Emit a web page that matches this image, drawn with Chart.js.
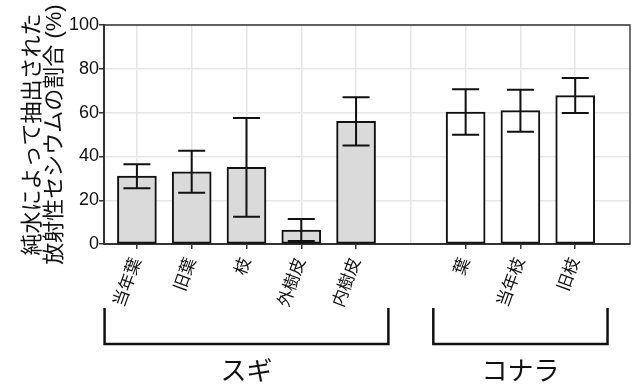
<!DOCTYPE html>
<html>
<head>
<meta charset="utf-8">
<script src="https://cdn.jsdelivr.net/npm/chart.js@4.4.1/dist/chart.umd.min.js"></script>
<style>
  body { margin: 0; background: #fff; }
</style>
</head>
<body>
<canvas id="myChart" width="640" height="390"></canvas>
<script>
// chart data
const sugiLabels = ['当年葉', '旧葉', '枝', '外樹皮', '内樹皮'];
const sugiValues = [31, 33, 35, 6.4, 56];
const sugiErrors = [5.5, 9.6, 22.5, 5, 11];

const konaraLabels = ['葉', '当年枝', '旧枝'];
const konaraValues = [60.3, 60.9, 67.8];
const konaraErrors = [10.4, 9.6, 8];

const groupNames = ['スギ', 'コナラ'];
const yTicks = [0, 20, 40, 60, 80, 100];
const yTitle = ['純水によって抽出された', '放射性セシウムの割合 (%)'];

const jpFont = "'Liberation Sans', 'Noto Sans CJK JP', sans-serif";

// slot positions: one empty slot between the two groups
const sugiPos = sugiLabels.map((_, i) => i + 1);
const konaraPos = konaraLabels.map((_, i) => sugiLabels.length + 2 + i);

const allPos = sugiPos.concat(konaraPos);
const allLabels = sugiLabels.concat(konaraLabels);
const allValues = sugiValues.concat(konaraValues);
const allErrors = sugiErrors.concat(konaraErrors);
const allColors = sugiLabels.map(() => '#dadada').concat(konaraLabels.map(() => '#ffffff'));

const labelAt = {};
allPos.forEach((p, i) => { labelAt[p] = allLabels[i]; });

const groups = [
  { name: groupNames[0], from: sugiPos[0], to: sugiPos[sugiPos.length - 1] },
  { name: groupNames[1], from: konaraPos[0], to: konaraPos[konaraPos.length - 1] },
];

const errorBars = {
  id: 'errorBars',
  afterDatasetsDraw(chart) {
    const { ctx, scales: { x, y } } = chart;
    ctx.save();
    ctx.strokeStyle = '#111';
    ctx.lineWidth = 2;
    allPos.forEach((p, i) => {
      const px = x.getPixelForValue(p);
      const hi = y.getPixelForValue(allValues[i] + allErrors[i]);
      const lo = y.getPixelForValue(allValues[i] - allErrors[i]);
      ctx.beginPath();
      ctx.moveTo(px, hi); ctx.lineTo(px, lo);
      ctx.moveTo(px - 13.5, hi); ctx.lineTo(px + 13.5, hi);
      ctx.moveTo(px - 13.5, lo); ctx.lineTo(px + 13.5, lo);
      ctx.stroke();
    });
    ctx.restore();
  }
};

const frame = {
  id: 'frame',
  afterDraw(chart) {
    const { ctx, chartArea: a, scales: { x } } = chart;
    ctx.save();
    ctx.strokeStyle = '#333';
    ctx.lineWidth = 1.3;
    ctx.beginPath();
    ctx.moveTo(a.left, a.top); ctx.lineTo(a.right, a.top); ctx.lineTo(a.right, a.bottom);
    ctx.stroke();

    // group brackets
    const step = x.getPixelForValue(2) - x.getPixelForValue(1);
    const top = a.bottom + 64;
    const bottom = a.bottom + 100;
    ctx.strokeStyle = '#111';
    ctx.lineWidth = 2.5;
    ctx.fillStyle = '#111';
    ctx.font = "26px 'Noto Sans CJK JP', sans-serif";
    ctx.textAlign = 'center';
    ctx.textBaseline = 'middle';
    groups.forEach(g => {
      const l = x.getPixelForValue(g.from) - step * 0.59;
      const r = x.getPixelForValue(g.to) + step * 0.59;
      ctx.beginPath();
      ctx.moveTo(l, top); ctx.lineTo(l, bottom); ctx.lineTo(r, bottom); ctx.lineTo(r, top);
      ctx.stroke();
      ctx.fillText(g.name, (x.getPixelForValue(g.from) + x.getPixelForValue(g.to)) / 2, bottom + 26);
    });
    ctx.restore();
  }
};

const config = {
  type: 'bar',
  data: {
    datasets: [{
      data: allPos.map((p, i) => ({ x: p, y: allValues[i] })),
      backgroundColor: allColors,
      borderColor: '#111',
      borderWidth: 2,
      borderSkipped: false,
      barThickness: 39,
    }],
  },
  options: {
    responsive: false,
    animation: false,
    devicePixelRatio: 1,
    layout: { padding: { left: 20, right: 10, top: 25, bottom: 74 } },
    plugins: {
      legend: { display: false },
      tooltip: { enabled: false },
    },
    scales: {
      x: {
        type: 'linear',
        min: 0.4,
        max: 10,
        offset: false,
        afterFit: s => { s.paddingLeft = 0; s.paddingRight = 0; },
        border: { color: '#333', width: 2 },
        grid: {
          offset: false,
          color: '#e6e6e6',
          lineWidth: 1.5,
          tickLength: 5,
          tickColor: c => (labelAt[c.tick && c.tick.value] ? '#333' : 'rgba(0,0,0,0)'),
        },
        ticks: {
          stepSize: 1,
          autoSkip: false,
          minRotation: 70,
          maxRotation: 70,
          padding: 6,
          color: '#111',
          font: { family: jpFont, size: 17 },
          callback: v => labelAt[v] || '',
        },
      },
      y: {
        min: 0,
        max: 100,
        border: { color: '#333', width: 2 },
        grid: { color: '#e6e6e6', lineWidth: 1.5, tickLength: 5, tickColor: '#333' },
        afterBuildTicks: s => { s.ticks = yTicks.map(v => ({ value: v })); },
        ticks: {
          padding: 0,
          color: '#111',
          font: { family: jpFont, size: 18 },
        },
        title: {
          display: true,
          text: yTitle,
          color: '#111',
          font: { family: jpFont, size: 22, lineHeight: 1.0 },
          padding: { top: 2, bottom: 3 },
        },
      },
    },
  },
  plugins: [errorBars, frame],
};

const myChart = new Chart(document.getElementById('myChart'), config);
</script>
</body>
</html>
